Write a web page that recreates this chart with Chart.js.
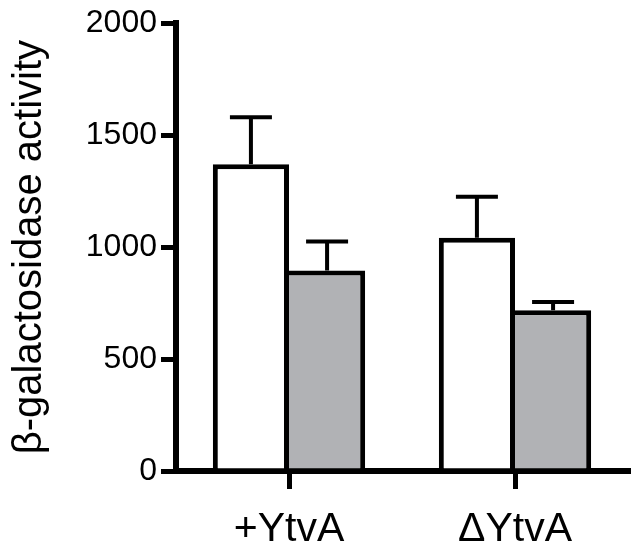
<!DOCTYPE html>
<html>
<head>
<meta charset="utf-8">
<script src="https://cdn.jsdelivr.net/npm/chart.js@4"></script>
<style>
  html, body { margin: 0; padding: 0; background: #fff; }
  #wrap { width: 636px; height: 555px; }
</style>
</head>
<body>
<div id="wrap"><canvas id="c" width="636" height="555"></canvas></div>
<script>
const categories = ['+YtvA', '\u0394YtvA'];
const whiteValues = [1370, 1042];
const whiteErrors = [210, 183];
const grayValues = [895, 718];
const grayErrors = [130, 37];
const yTicks = [0, 500, 1000, 1500, 2000];
const yTitle = '\u03B2-galactosidase activity';

const FONT = "'Liberation Sans', Arial, Helvetica, sans-serif";

const errorBarPlugin = {
  id: 'errorBars',
  afterDatasetsDraw(chart) {
    const ctx = chart.ctx;
    const yScale = chart.scales.y;
    chart.data.datasets.forEach((ds, di) => {
      const meta = chart.getDatasetMeta(di);
      meta.data.forEach((bar, i) => {
        const v = ds.data[i];
        const e = ds.errors[i];
        const yBase = yScale.getPixelForValue(v);
        const yTop = yScale.getPixelForValue(v + e);
        ctx.save();
        ctx.strokeStyle = '#000';
        ctx.lineWidth = 4;
        ctx.lineCap = 'butt';
        ctx.beginPath();
        ctx.moveTo(bar.x, yBase);
        ctx.lineTo(bar.x, yTop);
        ctx.moveTo(bar.x - 21, yTop);
        ctx.lineTo(bar.x + 21, yTop);
        ctx.stroke();
        ctx.restore();
      });
    });
  }
};

new Chart(document.getElementById('c'), {
  type: 'bar',
  data: {
    labels: categories,
    datasets: [
      {
        data: whiteValues,
        errors: whiteErrors,
        backgroundColor: '#ffffff',
        borderColor: '#000000',
        borderWidth: { top: 5, left: 5, right: 5, bottom: 0 },
        borderSkipped: false,
        categoryPercentage: 0.674,
        barPercentage: 1.0
      },
      {
        data: grayValues,
        errors: grayErrors,
        backgroundColor: '#b1b2b5',
        borderColor: '#000000',
        borderWidth: { top: 5, left: 0, right: 5, bottom: 0 },
        borderSkipped: false,
        categoryPercentage: 0.674,
        barPercentage: 1.0
      }
    ]
  },
  options: {
    responsive: false,
    animation: false,
    events: [],
    layout: { padding: { top: 20, right: 8, left: 0, bottom: 0 } },
    plugins: {
      legend: { display: false },
      tooltip: { enabled: false }
    },
    scales: {
      x: {
        grid: {
          offset: false,
          drawOnChartArea: false,
          drawTicks: true,
          tickLength: 18,
          lineWidth: 5,
          color: '#000'
        },
        border: { display: true, color: '#000', width: 6 },
        ticks: {
          color: '#000',
          padding: 16,
          font: { family: FONT, size: 41 }
        },
        afterFit(scale) { scale.height = 84; }
      },
      y: {
        min: 0,
        max: 2000,
        afterBuildTicks(scale) { scale.ticks = yTicks.map(v => ({ value: v })); },
        grid: {
          drawOnChartArea: false,
          drawTicks: true,
          tickLength: 15,
          lineWidth: 5,
          color: '#000'
        },
        border: { display: true, color: '#000', width: 6 },
        ticks: {
          color: '#000',
          padding: 4,
          font: { family: FONT, size: 32 },
          callback: (v) => String(v)
        },
        title: {
          display: true,
          text: yTitle,
          color: '#000',
          font: { family: FONT, size: 40 },
          padding: { top: 6, bottom: 0 }
        },
        afterFit(scale) { scale.width = 176; }
      }
    }
  },
  plugins: [errorBarPlugin]
});
</script>
</body>
</html>
